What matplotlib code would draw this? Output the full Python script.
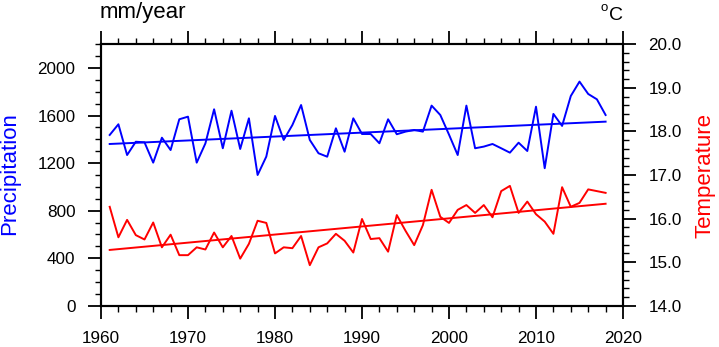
import matplotlib
matplotlib.use("Agg")
import matplotlib.pyplot as plt
from matplotlib.ticker import MultipleLocator, FormatStrFormatter

plt.rcParams['font.family'] = ['Liberation Sans', 'DejaVu Sans']

years = list(range(1961, 2019))
precip = [1437, 1527, 1268, 1380, 1375, 1204, 1414, 1310, 1569, 1591,
          1204, 1366, 1653, 1325, 1641, 1319, 1577, 1100, 1255, 1597,
          1395, 1521, 1689, 1395, 1283, 1254, 1493, 1296, 1577, 1445,
          1445, 1367, 1569, 1443, 1465, 1479, 1465, 1684, 1605, 1440,
          1268, 1684, 1325, 1339, 1361, 1325, 1288, 1372, 1302, 1675,
          1157, 1614, 1513, 1765, 1886, 1782, 1737, 1605]
temp = [16.27, 15.57, 15.97, 15.62, 15.52, 15.91, 15.34, 15.63, 15.16, 15.16,
        15.34, 15.29, 15.68, 15.34, 15.60, 15.08, 15.42, 15.95, 15.90, 15.20,
        15.34, 15.32, 15.60, 14.93, 15.34, 15.43, 15.65, 15.49, 15.22, 15.99,
        15.53, 15.55, 15.24, 16.08, 15.72, 15.39, 15.85, 16.66, 16.04, 15.90,
        16.20, 16.31, 16.13, 16.31, 16.03, 16.63, 16.75, 16.13, 16.39, 16.10,
        15.93, 15.65, 16.72, 16.27, 16.36, 16.67, 16.63, 16.59]
trend_years = [1961, 2018]
precip_trend = [1361, 1549]
temp_trend = [15.28, 16.34]

fig = plt.figure(figsize=(7.19, 3.47), dpi=100)
ax = fig.add_axes([101/719, 1-305.7/347, 522/719, 261.4/347])
ax2 = ax.twinx()

ax.plot(years, precip, color=(0, 0, 1), lw=1.4)
ax.plot(trend_years, precip_trend, color=(0, 0, 1), lw=1.4)
ax2.plot(years, temp, color=(1, 0, 0), lw=1.4)
ax2.plot(trend_years, temp_trend, color=(1, 0, 0), lw=1.4)

ax.set_xlim(1960, 2020)
ax.set_ylim(0, 2200)
ax2.set_ylim(14, 20)

ax.xaxis.set_major_locator(MultipleLocator(10))
ax.xaxis.set_minor_locator(MultipleLocator(2))
ax.yaxis.set_major_locator(MultipleLocator(400))
ax.yaxis.set_minor_locator(MultipleLocator(100))
ax2.yaxis.set_major_locator(MultipleLocator(1))
ax2.yaxis.set_minor_locator(MultipleLocator(0.2))
ax2.yaxis.set_major_formatter(FormatStrFormatter('%.1f'))

for a in (ax, ax2):
    for s in a.spines.values():
        s.set_linewidth(1.5)

ax.tick_params(axis='x', which='both', direction='out', top=True, bottom=True,
               labeltop=False, labelsize=12.3, pad=9, width=1.3)
ax.tick_params(axis='x', which='major', length=9.4)
ax.tick_params(axis='x', which='minor', length=4.3, width=1.0)
ax.tick_params(axis='y', which='both', direction='out', left=True, right=False,
               labelsize=12.3, pad=9, width=1.3)
ax.tick_params(axis='y', which='major', length=9.4)
ax.tick_params(axis='y', which='minor', length=4.3, width=1.0)
ax2.tick_params(axis='y', which='both', direction='out', right=True, left=False,
                labelsize=12.3, pad=9, width=1.3)
ax2.tick_params(axis='y', which='major', length=9.4)
ax2.tick_params(axis='y', which='minor', length=4.3, width=1.0)

fig.text(100/719, 1-18/347, 'mm/year', fontsize=16, ha='left', va='baseline')
fig.text(608/719, 1-11/347, 'o', fontsize=9.5, ha='right', va='baseline')
fig.text(623/719, 1-20.5/347, 'C', fontsize=14, ha='right', va='baseline')
fig.text(10/719, 1-174/347, 'Precipitation', fontsize=16, color=(0, 0, 1),
         rotation=90, ha='center', va='center')
fig.text(705/719, 1-175/347, 'Temperature', fontsize=16, color=(1, 0, 0),
         rotation=90, ha='center', va='center')

fig.savefig('out.png', dpi=100)
